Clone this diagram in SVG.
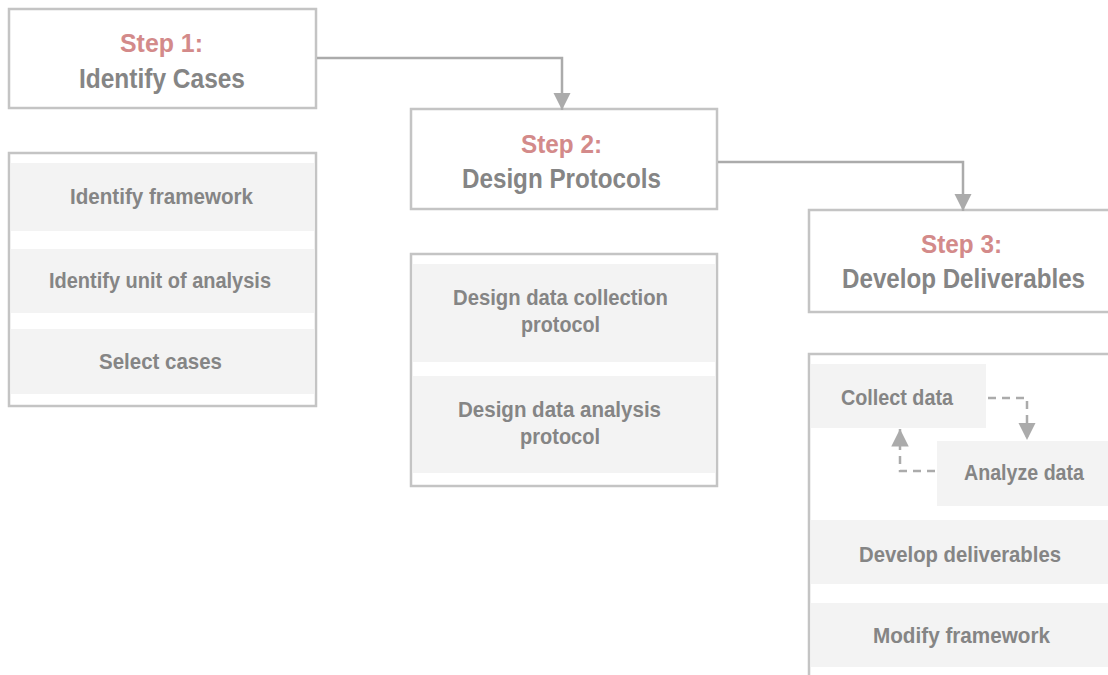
<svg xmlns="http://www.w3.org/2000/svg" width="1108" height="675" viewBox="0 0 1108 675">
<defs>
<style>
.box{fill:#fff;stroke:#c4c4c4;stroke-width:2.5}
.item{fill:#f3f3f3}
.t{font-family:"Liberation Sans",Arial,sans-serif;font-weight:bold;fill:#858585}
.step{font-size:26px;fill:#d38a8a}
.title{font-size:27px}
.lbl{font-size:22px}
.conn{fill:none;stroke:#ababab;stroke-width:2.5}
.dash{fill:none;stroke:#ababab;stroke-width:2.5;stroke-dasharray:8 6}
</style>
<marker id="arr" viewBox="0 0 10 10" refX="10" refY="5" markerWidth="7" markerHeight="7" markerUnits="strokeWidth" orient="auto">
<path d="M0,0 L10,5 L0,10 z" fill="#ababab"/>
</marker>
</defs>
<rect width="1108" height="675" fill="#fff"/>
<g id="step1">
<rect class="box" x="9" y="9" width="307" height="99"/>
<text class="t step" x="120" y="52" textLength="83" lengthAdjust="spacingAndGlyphs">Step 1:</text>
<text class="t title" x="79" y="88" textLength="166" lengthAdjust="spacingAndGlyphs">Identify Cases</text>
</g>
<g id="step1-list">
<rect class="box" x="9" y="153" width="307" height="253"/>
<rect class="item" x="11" y="163" width="303" height="68"/>
<rect class="item" x="11" y="249" width="303" height="64"/>
<rect class="item" x="11" y="329" width="303" height="65"/>
<text class="t lbl" x="70" y="204" textLength="183" lengthAdjust="spacingAndGlyphs">Identify framework</text>
<text class="t lbl" x="49" y="288" textLength="222" lengthAdjust="spacingAndGlyphs">Identify unit of analysis</text>
<text class="t lbl" x="99" y="369" textLength="123" lengthAdjust="spacingAndGlyphs">Select cases</text>
</g>
<g id="step2">
<rect class="box" x="411" y="109" width="306" height="100"/>
<text class="t step" x="521" y="153" textLength="81" lengthAdjust="spacingAndGlyphs">Step 2:</text>
<text class="t title" x="462" y="188" textLength="199" lengthAdjust="spacingAndGlyphs">Design Protocols</text>
</g>
<g id="step2-list">
<rect class="box" x="411" y="254" width="306" height="232"/>
<rect class="item" x="413" y="264" width="302" height="98"/>
<rect class="item" x="413" y="376" width="302" height="97"/>
<text class="t lbl" x="453" y="305" textLength="215" lengthAdjust="spacingAndGlyphs">Design data collection</text>
<text class="t lbl" x="521" y="332" textLength="79" lengthAdjust="spacingAndGlyphs">protocol</text>
<text class="t lbl" x="458" y="417" textLength="203" lengthAdjust="spacingAndGlyphs">Design data analysis</text>
<text class="t lbl" x="520" y="444" textLength="80" lengthAdjust="spacingAndGlyphs">protocol</text>
</g>
<g id="step3">
<rect class="box" x="809" y="210" width="310" height="102"/>
<text class="t step" x="921" y="253" textLength="81" lengthAdjust="spacingAndGlyphs">Step 3:</text>
<text class="t title" x="842" y="288" textLength="243" lengthAdjust="spacingAndGlyphs">Develop Deliverables</text>
</g>
<g id="step3-list">
<rect class="box" x="809" y="354" width="310" height="340"/>
<rect class="item" x="811" y="364" width="175" height="64"/>
<rect class="item" x="937" y="441" width="171" height="65"/>
<rect class="item" x="811" y="520" width="297" height="64"/>
<rect class="item" x="811" y="603" width="297" height="64"/>
<text class="t lbl" x="841" y="405" textLength="112" lengthAdjust="spacingAndGlyphs">Collect data</text>
<text class="t lbl" x="964" y="480" textLength="120" lengthAdjust="spacingAndGlyphs">Analyze data</text>
<text class="t lbl" x="859" y="562" textLength="202" lengthAdjust="spacingAndGlyphs">Develop deliverables</text>
<text class="t lbl" x="873" y="643" textLength="177" lengthAdjust="spacingAndGlyphs">Modify framework</text>
</g>
<g id="connectors">
<path class="conn" d="M317,58 H562 V110" marker-end="url(#arr)"/>
<path class="conn" d="M718,162 H963 V211" marker-end="url(#arr)"/>
<path class="dash" d="M988,398 H1027 V440" marker-end="url(#arr)"/>
<path class="dash" d="M935,471 H900 V429" marker-end="url(#arr)"/>
</g>
</svg>
